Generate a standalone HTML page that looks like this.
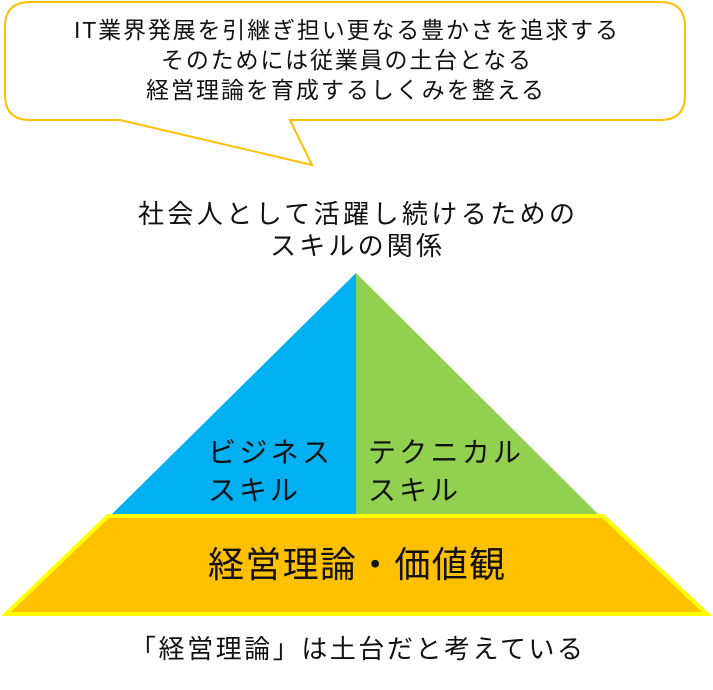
<!DOCTYPE html>
<html><head><meta charset="utf-8"><style>
body{margin:0;background:#fff;width:713px;height:685px;overflow:hidden}
svg text{font-family:"Liberation Sans","Noto Sans CJK JP",sans-serif;fill:#111}
</style></head><body>
<svg width="713" height="685" xmlns="http://www.w3.org/2000/svg">
<path d="M30,2 H660 Q685,2 685,27 V95 Q685,120 660,120 H290 L312,165 L120,120 H30 Q5,120 5,95 V27 Q5,2 30,2 Z" fill="#fff" stroke="#FFC000" stroke-width="2"/>
<g font-size="23">
<text x="74" y="38" textLength="544" lengthAdjust="spacing">IT業界発展を引継ぎ担い更なる豊かさを追求する</text>
<text x="161" y="68" textLength="370" lengthAdjust="spacing">そのためには従業員の土台となる</text>
<text x="146" y="98" textLength="398" lengthAdjust="spacing">経営理論を育成するしくみを整える</text>
</g>
<g font-size="26">
<text x="138" y="223" textLength="437" lengthAdjust="spacing">社会人として活躍し続けるための</text>
<text x="270" y="255" textLength="172" lengthAdjust="spacing">スキルの関係</text>
</g>
<polygon points="356,273 356,516 110,516" fill="#00B0F0"/>
<polygon points="356,273 600,516 356,516" fill="#92D050"/>
<polygon points="108,516 603,516 707,614 6,614" fill="#FFC000" stroke="#FFFF00" stroke-width="4"/>
<g font-size="28">
<text x="208" y="462" textLength="122" lengthAdjust="spacing">ビジネス</text>
<text x="208" y="500" textLength="90" lengthAdjust="spacing">スキル</text>
<text x="368" y="462" textLength="153" lengthAdjust="spacing">テクニカル</text>
<text x="368" y="500" textLength="90" lengthAdjust="spacing">スキル</text>
</g>
<text x="208" y="577" font-size="36" textLength="297" lengthAdjust="spacing">経営理論・価値観</text>
<text x="130" y="658" font-size="26" textLength="453" lengthAdjust="spacing">「経営理論」は土台だと考えている</text>
</svg>
</body></html>
